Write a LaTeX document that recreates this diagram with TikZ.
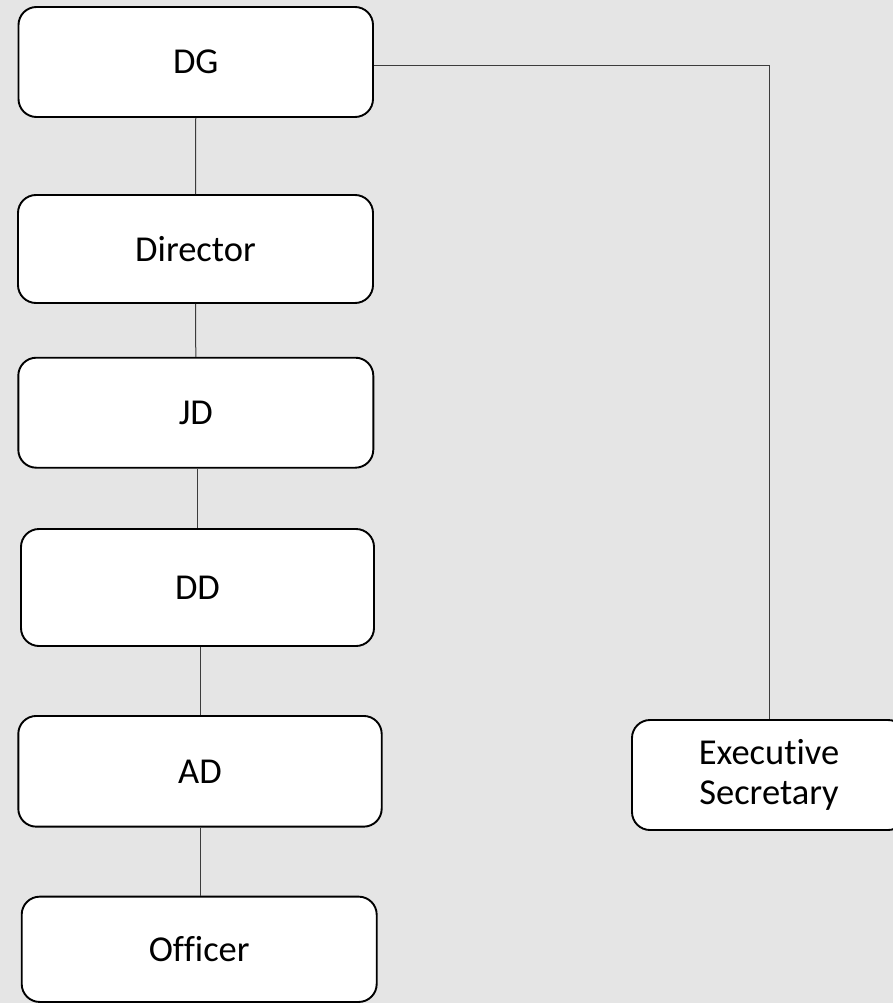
\documentclass[tikz,border=0pt]{standalone}
\usepackage{fontspec}
\setmainfont{Carlito}[Ligatures=NoCommon]
\definecolor{pagebg}{HTML}{E5E5E5}
\definecolor{linkgray}{HTML}{3C3C3C}
\begin{document}
\begin{tikzpicture}[x=1pt,y=-1pt,
  post/.style={draw=black, line width=1.9pt, fill=white, rounded corners=18pt,
    inner sep=0pt, align=center, font=\fontsize{36.5}{40}\selectfont},
  link/.style={draw=linkgray, line width=1pt}]
  % page and clipping frame
  \useasboundingbox (0,0) rectangle (893,1003);
  \clip (0,0) rectangle (893,1003);
  \fill[pagebg] (0,0) rectangle (893,1003);

  % left column of posts
  \node[post, minimum width=354.5pt, minimum height=110pt] (dg)  at (195.75,62)  {DG};
  \node[post, minimum width=355pt, minimum height=108pt] (dir) at (195.5,249)  {Director};
  \node[post, minimum width=355pt, minimum height=110pt] (jd)  at (195.8,412.7) {JD};
  \node[post, minimum width=353pt, minimum height=117pt] (dd)  at (197.5,587.5) {DD};
  \node[post, minimum width=363.4pt, minimum height=110.7pt] (ad) at (200,771.3) {AD};
  \node[post, minimum width=355pt, minimum height=105.3pt] (off) at (199.2,949.3) {Officer};

  % side post, running past the right edge
  \node[post, minimum width=274pt, minimum height=110pt] (es) at (769,775) {Executive\\Secretary};

  % reporting lines
  \draw[link] (dg.south) -- (dir.north);
  \draw[link] (dir.south) -- (jd.north);
  \draw[link] (dd.north |- jd.south) -- (dd.north);
  \draw[link] (ad.north |- dd.south) -- (ad.north);
  \draw[link] (ad.south) -- (ad.south |- off.north);
  \coordinate (bend) at ([yshift=-4pt]dg.east);
  \draw[link] (bend) -- (es.north |- bend) -- (es.north);
\end{tikzpicture}
\end{document}
